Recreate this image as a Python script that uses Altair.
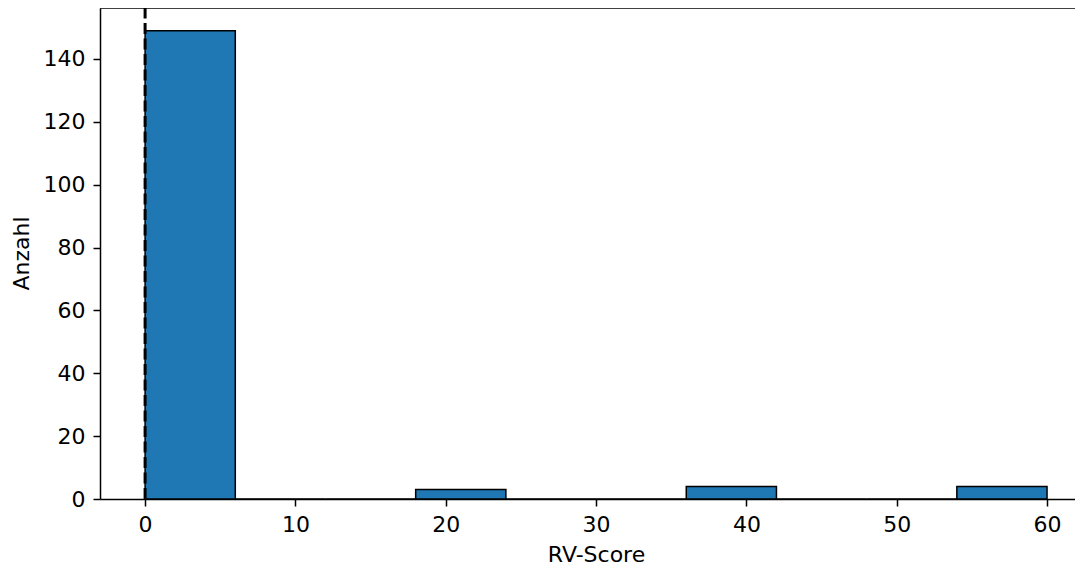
import altair as alt
import pandas as pd

bin_starts = [0, 6, 12, 18, 24, 30, 36, 42, 48, 54]
bin_width = 6
counts = [149, 0, 0, 3, 0, 0, 4, 0, 0, 4]
vline_x = [0]
x_ticks = [0, 10, 20, 30, 40, 50, 60]
y_ticks = [0, 20, 40, 60, 80, 100, 120, 140]

W, H = 975, 491
FONT = "DejaVu Sans"
FS = 22

df = pd.DataFrame({
    "start": bin_starts,
    "end": [s + bin_width for s in bin_starts],
    "count": counts,
})
vdf = pd.DataFrame({"v": vline_x})

xscale = alt.Scale(domain=[-3, 61.86], nice=False, zero=False)
yscale = alt.Scale(domain=[0, 156.2], nice=False)

bars = alt.Chart(df).mark_bar(
    color="#1f77b4", stroke="black", strokeWidth=1.5, opacity=1
).encode(
    x=alt.X("start:Q", scale=xscale,
            axis=alt.Axis(values=x_ticks, title="RV-Score", titleY=62,
                          titleX=496, titleAlign="center",
                          titleBaseline="alphabetic", labelPadding=8)),
    x2="end:Q",
    y=alt.Y("count:Q", scale=yscale,
            axis=alt.Axis(values=y_ticks, title="Anzahl", titleX=-72,
                          titleY=245, titleAlign="center", titleAngle=-90,
                          titleBaseline="alphabetic", labelPadding=8)),
    y2=alt.datum(0),
)

vline = alt.Chart(vdf).mark_rule(
    color="black", strokeWidth=3, strokeDash=[11, 4.5]
).encode(
    x=alt.X("v:Q", scale=xscale),
    y=alt.value(H),
    y2=alt.value(0),
)

top_spine = alt.Chart(vdf).mark_rule(color="black", strokeWidth=1.5).encode(
    x=alt.value(0), x2=alt.value(W), y=alt.value(0)
)

chart = alt.layer(bars, vline, top_spine).properties(
    width=W, height=H,
    autosize=alt.AutoSizeParams(type="none"),
    padding={"left": 92, "top": 0, "right": 0, "bottom": 65},
).configure_view(stroke=None).configure_axis(
    grid=False,
    labelFont=FONT, labelFontSize=FS, labelColor="black",
    titleFont=FONT, titleFontSize=FS, titleColor="black", titleFontWeight="normal",
    domainColor="black", domainWidth=1.5,
    tickColor="black", tickWidth=1.5, tickSize=7,
    labelFlush=False,
)

chart.save("out.html", embed_options={"renderer": "svg", "actions": False})
